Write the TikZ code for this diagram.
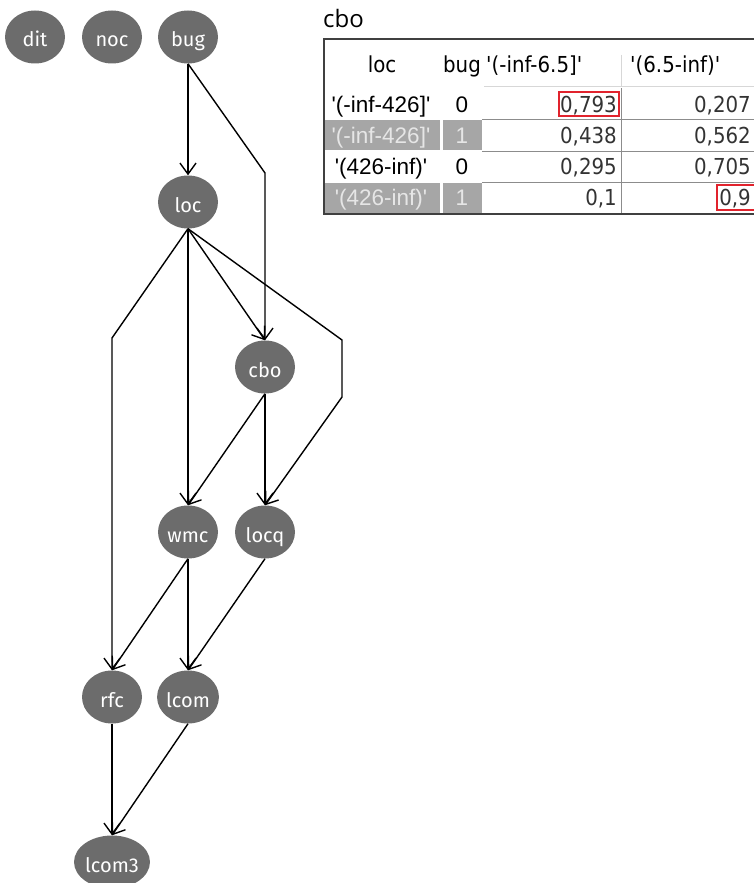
\documentclass[tikz,border=0pt]{standalone}
\usepackage{fontspec}
\setmainfont{DejaVu Sans}
\newfontfamily\nodefont{Fira Sans}
\newfontfamily\cellfont{Liberation Sans}
\newfontfamily\titlefont{Open Sans}
\newfontfamily\tabfont[FakeStretch=0.9]{DejaVu Sans}
\usetikzlibrary{shapes.geometric,arrows.meta}

\definecolor{vargray}{RGB}{108,108,108}
\definecolor{cellgray}{RGB}{166,166,166}
\definecolor{celltext}{RGB}{230,230,230}
\definecolor{gridgray}{RGB}{140,140,140}
\definecolor{rulegray}{RGB}{215,215,215}
\definecolor{markred}{RGB}{225,35,45}

\begin{document}
\begin{tikzpicture}[x=1pt, y=-1pt,
    var/.style={ellipse, fill=vargray, text=white, minimum width=60pt, minimum height=53pt,
        inner sep=0pt, text height=20pt, text depth=0pt, font=\nodefont\fontsize{20}{20}\selectfont},
    edge/.style={line width=1.4pt, -{Straight Barb[length=11pt, width=16pt]}},
    head/.style={inner sep=0pt, anchor=base, font=\tabfont\fontsize{22}{22}\selectfont},
    lbl/.style={inner sep=0pt, anchor=base, font=\cellfont\fontsize{22.5}{22.5}\selectfont},
    val/.style={inner sep=0pt, anchor=base east, font=\tabfont\fontsize{22}{22}\selectfont, text=black!80},
    greycell/.style={fill=cellgray, draw=none},
    redbox/.style={draw=markred, line width=1.3pt}]

    \useasboundingbox (0,0) rectangle (753,883);

    % Top row
    \node[var] (dit) at (35,37) {dit};
    \node[var] (noc) at (112,37) {noc};
    \node[var] (bug) at (188,37) {bug};

    % Network below bug
    \node[var] (loc) at (188,202) {loc};
    \node[var] (cbo) at (265,367) {cbo};
    \node[var] (wmc) at (188,532) {wmc};
    \node[var] (locq) at (265,532) {locq};
    \node[var] (rfc) at (112,697) {rfc};
    \node[var] (lcom) at (188,697) {lcom};
    \node[var] (lcom3) at (112,862) {lcom3};

    % Bends of the long edges
    \coordinate (b1) at (265,173);
    \coordinate (b2) at (112,338);
    \coordinate (b3) at (342,340);
    \coordinate (b4) at (342,397);

    % Edges
    \draw[edge] (bug.south) -- (loc.north);
    \draw[edge] (bug.south) -- (b1) -- (cbo.north);
    \draw[edge] (loc.south) -- (b2) -- (rfc.north);
    \draw[edge] (loc.south) -- (wmc.north);
    \draw[edge] (loc.south) -- (cbo.north);
    \draw[edge] (loc.south) -- (b3) -- (b4) -- (locq.north);
    \draw[edge] (cbo.south) -- (wmc.north);
    \draw[edge] (cbo.south) -- (locq.north);
    \draw[edge] (wmc.south) -- (rfc.north);
    \draw[edge] (wmc.south) -- (lcom.north);
    \draw[edge] (locq.south) -- (lcom.north);
    \draw[edge] (rfc.south) -- (lcom3.north);
    \draw[edge] (lcom.south) -- (lcom3.north);

    % Probability table of cbo
    \node[inner sep=0pt, anchor=base west, font=\titlefont\fontsize{24}{24}\selectfont] (title) at (323,28) {cbo};

    \fill[greycell] (325,120) rectangle (440,150);
    \fill[greycell] (443,120) rectangle (482,150);
    \fill[greycell] (325,183) rectangle (440,213);
    \fill[greycell] (443,183) rectangle (482,213);

    \draw[rulegray, line width=1pt] (484,86) -- (770,86);
    \draw[rulegray, line width=1pt] (621,55) -- (621,86);
    \draw[gridgray, line width=1pt] (482,119) -- (770,119);
    \draw[gridgray, line width=1pt] (482,151) -- (770,151);
    \draw[gridgray, line width=1pt] (482,182) -- (770,182);
    \draw[gridgray, line width=1pt] (621,88) -- (621,213);
    \draw[black!75, line width=2.2pt] (324,39) rectangle (775,214);

    % Header
    \node[head] (hloc) at (382,73) {loc};
    \node[head] (hbug) at (462,73) {bug};
    \node[head, anchor=base west] (hlow) at (486,73) {'(-inf-6.5]'};
    \node[head, anchor=base west] (hhigh) at (630,73) {'(6.5-inf)'};

    % Rows
    \node[lbl] (r1loc) at (381,112) {'(-inf-426]'};
    \node[lbl] (r1bug) at (462,112) {0};
    \node[val] (r1low) at (617,112) {0,793};
    \node[val] (r1high) at (751,112) {0,207};

    \node[lbl, text=celltext] (r2loc) at (381,143) {'(-inf-426]'};
    \node[lbl, text=celltext] (r2bug) at (462,143) {1};
    \node[val] (r2low) at (617,143) {0,438};
    \node[val] (r2high) at (751,143) {0,562};

    \node[lbl] (r3loc) at (381,174) {'(426-inf)'};
    \node[lbl] (r3bug) at (462,174) {0};
    \node[val] (r3low) at (617,174) {0,295};
    \node[val] (r3high) at (751,174) {0,705};

    \node[lbl, text=celltext] (r4loc) at (381,205) {'(426-inf)'};
    \node[lbl, text=celltext] (r4bug) at (462,205) {1};
    \node[val] (r4low) at (617,205) {0,1};
    \node[val] (r4high) at (751,205) {0,9};

    % Highlighted entries
    \draw[redbox] (559,92) rectangle (619,116);
    \draw[redbox] (717,185) rectangle (775,210);

\end{tikzpicture}
\end{document}
